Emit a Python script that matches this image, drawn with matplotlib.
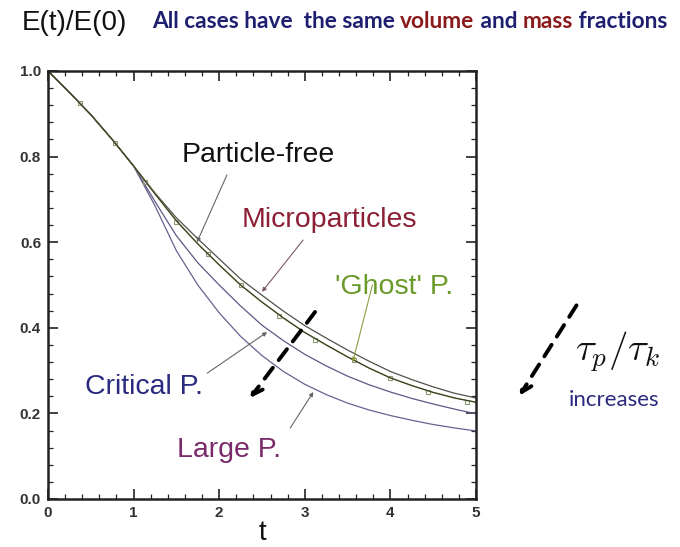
import matplotlib
matplotlib.use("Agg")
import matplotlib.pyplot as plt
from matplotlib.ticker import MultipleLocator

plt.rcParams['font.family'] = ['Liberation Sans', 'DejaVu Sans']
plt.rcParams['mathtext.fontset'] = 'cm'

# ---- data ----
t_all = [0.0, 0.25, 0.5, 0.75, 1.0, 1.25, 1.5, 1.75, 2.0, 2.25, 2.5, 2.75, 3.0,
         3.25, 3.5, 3.75, 4.0, 4.25, 4.5, 4.75, 5.0]
particle_free = [1.0, 0.950, 0.898, 0.840, 0.778, 0.713, 0.650, 0.596, 0.547, 0.500, 0.460,
                 0.423, 0.389, 0.360, 0.332, 0.306, 0.283, 0.265, 0.249, 0.236, 0.226]
microparticles = [1.0, 0.950, 0.898, 0.840, 0.778, 0.715, 0.657, 0.608, 0.561, 0.514, 0.476,
                  0.439, 0.405, 0.376, 0.348, 0.322, 0.298, 0.279, 0.262, 0.247, 0.236]
critical_p = [1.0, 0.950, 0.898, 0.840, 0.778, 0.695, 0.615, 0.552, 0.500, 0.451, 0.406,
              0.370, 0.338, 0.311, 0.287, 0.267, 0.250, 0.235, 0.222, 0.210, 0.199]
large_p = [1.0, 0.950, 0.898, 0.840, 0.778, 0.685, 0.580, 0.500, 0.435, 0.380, 0.335,
           0.298, 0.268, 0.244, 0.224, 0.208, 0.195, 0.184, 0.174, 0.166, 0.159]

ghost_t = [0.0, 0.37, 0.78, 1.13, 1.5, 1.87, 2.25, 2.7, 3.12, 3.57, 4.0, 4.44, 4.9]
ghost_e = [1.0, 0.925, 0.832, 0.740, 0.648, 0.573, 0.499, 0.428, 0.372, 0.324, 0.282, 0.250, 0.226]

x_ticks = [0, 1, 2, 3, 4, 5]
y_ticks = [0.0, 0.2, 0.4, 0.6, 0.8, 1.0]

fig = plt.figure(figsize=(6.8, 5.47), dpi=100)
ax = fig.add_axes([48/680, 1 - 499/547, 428/680, 428/547])

ax.plot(t_all, large_p, color='#6a6090', lw=0.9)
ax.plot(t_all, critical_p, color='#5a5a86', lw=0.9)
ax.plot(t_all, microparticles, color='#55504a', lw=0.9)
ax.plot(t_all, particle_free, color='#8aa040', lw=1.1)
ax.plot(ghost_t, ghost_e, color='none', marker='s', ms=3.5,
        mfc='none', mec='#8a9a70', mew=0.8, ls='none')
ax.plot(t_all, particle_free, color='#303030', lw=0.7)

ax.set_xlim(0, 5)
ax.set_ylim(0, 1)
ax.set_xticks(x_ticks)
ax.set_yticks(y_ticks)
ax.set_yticklabels([f"{v:.1f}" for v in y_ticks])
ax.xaxis.set_minor_locator(MultipleLocator(0.2))
ax.yaxis.set_minor_locator(MultipleLocator(0.04))
ax.tick_params(which='both', direction='in', top=True, right=True, labelsize=11,
               colors='#222222')
ax.tick_params(which='major', length=7, width=1.2, pad=5)
ax.tick_params(which='minor', length=3.5, width=0.9)
for lab in ax.get_xticklabels() + ax.get_yticklabels():
    lab.set_fontweight('bold')
    lab.set_color('#333333')
for s in ax.spines.values():
    s.set_linewidth(1.8)
    s.set_color('#222222')

# annotations
def ann(label, xy, xytext, color, tx, ty, arrow_color='#666666'):
    ax.annotate('', xy=xy, xytext=xytext,
                arrowprops=dict(arrowstyle='-|>', color=arrow_color, lw=0.8, mutation_scale=6,
                                shrinkA=0, shrinkB=0))
    fig.text(tx/680, 1 - ty/547, label, color=color, fontsize=20.5, ha='left', va='center')

ann('Particle-free', (1.74, 0.600), (2.09, 0.757), '#111111', 182, 155)
ann('Microparticles', (2.50, 0.484), (2.98, 0.605), '#8b2035', 242, 220, '#7a5a60')
ann("'Ghost' P.", (3.56, 0.320), (3.79, 0.500), '#6a9a2a', 335, 287, '#8aa040')
ann('Critical P.', (2.56, 0.390), (1.86, 0.294), '#2a2a80', 85, 387)
ann('Large P.', (3.10, 0.250), (2.83, 0.166), '#7a2a6a', 177, 450)

# dashed arrow inside plot
ax.annotate('', xy=(2.36, 0.236), xytext=(3.12, 0.437),
            arrowprops=dict(arrowstyle='->', color='black', lw=2.8, linestyle=(0, (3.5, 2.5)),
                            mutation_scale=18, shrinkA=0, shrinkB=0))
# dashed arrow outside
fig.patches.append(matplotlib.patches.FancyArrowPatch(
    (578/680, 1 - 303/547), (518/680, 1 - 398/547), transform=fig.transFigure,
    arrowstyle='->', color='black', lw=2.8, linestyle=(0, (3.5, 2.5)), mutation_scale=18))

fig.text(618/680, 1 - 352/547, r'$\tau_p/\tau_k$', fontsize=28, ha='center', va='center',
         color='#111111')
fig.text(614/680, 1 - 400/547, 'increases', fontsize=16, ha='center', va='center',
         color='#2a2a80', family=['Lato', 'DejaVu Sans'])

# labels
fig.text(22/680, 1 - 23/547, 'E(t)/E(0)', fontsize=20, ha='left', va='center', color='#111111')
fig.text(262/680, 1 - 533/547, 't', fontsize=20, ha='center', va='center', color='#111111')

# multicolor title
navy = '#1f1f70'
red = '#8b1a1a'
pieces = [('All cases have  the same ', navy), ('volume', red), (' and ', navy),
          ('mass', red), (' fractions', navy)]
fig.canvas.draw()
renderer = fig.canvas.get_renderer()
x = 152/680
for txt, col in pieces:
    tobj = fig.text(x, 1 - 21/547, txt, fontsize=16.3, ha='left', va='center', color=col,
                    weight='bold', family=['Lato', 'DejaVu Sans'])
    bb = tobj.get_window_extent(renderer=renderer)
    x += bb.width / fig.bbox.width

fig.savefig('out.png', dpi=100)
